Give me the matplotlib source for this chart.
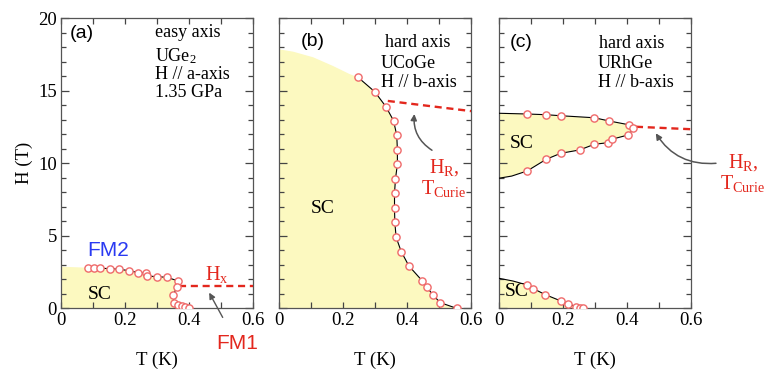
import numpy as np
import matplotlib
matplotlib.use('Agg')
from matplotlib import pyplot as plt
from matplotlib.ticker import MultipleLocator

plt.rcParams['font.family'] = 'Liberation Serif'
plt.rcParams['mathtext.fontset'] = 'custom'
plt.rcParams['mathtext.rm'] = 'Liberation Serif'
plt.rcParams['mathtext.it'] = 'Liberation Serif:italic'

# UGe2, H // a (1.35 GPa)
a_T = [0.083, 0.103, 0.122, 0.152, 0.182, 0.212, 0.241, 0.266, 0.270, 0.300,
       0.331, 0.365, 0.362, 0.350, 0.353, 0.365, 0.378, 0.388, 0.400]
a_H = [2.80, 2.80, 2.76, 2.74, 2.69, 2.60, 2.46, 2.41, 2.23, 2.18,
       2.14, 1.89, 1.45, 0.90, 0.39, 0.25, 0.16, 0.07, 0.00]
a_edge_H = 2.87
a_hx_T = [0.37, 0.60]
a_hx_H = [1.55, 1.55]

# UCoGe, H // b
b_T = [0.247, 0.299, 0.334, 0.358, 0.368, 0.370, 0.370, 0.364, 0.361, 0.361,
       0.362, 0.366, 0.382, 0.406, 0.447, 0.463, 0.480, 0.504, 0.555]
b_H = [15.93, 14.94, 13.91, 12.94, 11.93, 10.92, 9.93, 8.92, 7.93, 6.90,
       5.93, 4.90, 3.91, 2.92, 1.91, 1.45, 0.94, 0.39, 0.00]
b_top_T = [0.0, 0.044, 0.107, 0.169, 0.220]
b_top_H = [17.86, 17.70, 17.31, 16.71, 16.16]
b_hr_T = [0.34, 0.60]
b_hr_H = [14.30, 13.60]

# URhGe, H // b : re-entrant pocket
cu_T = [0.088, 0.148, 0.193, 0.298, 0.344, 0.405, 0.420]
cu_H = [13.40, 13.35, 13.28, 13.14, 12.92, 12.66, 12.46]
cl_T = [0.088, 0.148, 0.193, 0.252, 0.298, 0.340, 0.353, 0.403]
cl_H = [9.47, 10.28, 10.69, 10.92, 11.31, 11.42, 11.66, 11.95]
cu_edge_H = 13.45
cl_edge_T = [0.0, 0.04]
cl_edge_H = [8.97, 9.12]
c_tip = (0.428, 12.52)
# URhGe low-field SC
cb_T = [0.088, 0.107, 0.145, 0.193, 0.217, 0.241, 0.252, 0.262]
cb_H = [1.61, 1.36, 0.94, 0.51, 0.32, 0.11, 0.03, 0.00]
cb_edge_T = [0.0, 0.044]
cb_edge_H = [2.07, 1.88]
c_hr_T = [0.428, 0.60]
c_hr_H = [12.52, 12.35]

fill_c = '#fcf9c0'
mark_c = '#ef6a6a'
red = '#e3271d'
arrow_c = '#555555'
pt_kw = dict(ls='none', marker='o', ms=5.2, mfc='white', mec=mark_c, mew=1.0, zorder=5)
line_kw = dict(color='black', lw=0.8, zorder=4)
dash_kw = dict(color=red, lw=1.7, dashes=(3, 2), zorder=3)
fs_tick = 13.5
fs_txt = 13

fig = plt.figure(figsize=(7.7, 3.71), dpi=100)
lefts = [0.0792, 0.3623, 0.648]
axs = [fig.add_axes([l, 0.169, 0.2494, 0.7817]) for l in lefts]

for i, ax in enumerate(axs):
    ax.set_xlim(0, 0.6)
    ax.set_ylim(0, 20)
    ax.set_xticks([0, 0.2, 0.4, 0.6])
    ax.set_xticklabels(['0', '0.2', '0.4', '0.6'])
    ax.xaxis.set_minor_locator(MultipleLocator(0.1))
    ax.yaxis.set_major_locator(MultipleLocator(5))
    ax.yaxis.set_minor_locator(MultipleLocator(1))
    ax.tick_params(which='both', direction='in', top=True, right=True, labelsize=fs_tick,
                   width=0.9, color='#444444', pad=3)
    ax.tick_params(axis='y', which='major', length=6)
    ax.tick_params(axis='y', which='minor', length=3.5)
    ax.tick_params(axis='x', which='both', length=4)
    ax.set_xlabel('T (K)', fontsize=fs_tick, labelpad=16)
    for s in ax.spines.values():
        s.set_color('#555555')
        s.set_linewidth(0.9)
    if i > 0:
        ax.set_yticklabels([])


def sample_text(ax, xs, ys, lines):
    # small sample description block, one baseline per line
    for x, y, s in zip(xs, ys, lines):
        ax.text(x, y, s, fontsize=fs_txt, ha='left', va='baseline')


ax = axs[0]
ax.set_ylabel('H (T)', fontsize=fs_tick, labelpad=4)
ax.fill([0, 0] + a_T, [0, a_edge_H] + a_H, color=fill_c, lw=0, zorder=1)
ax.plot(a_T, a_H, **line_kw)
ax.plot(a_T, a_H, **pt_kw)
ax.plot(a_hx_T, a_hx_H, **dash_kw)
ax.text(0.065, 18.95, '(a)', family='Liberation Sans', fontsize=14, ha='center', va='center')
sample_text(ax, [0.293] * 4, [18.69, 17.05, 15.78, 14.6],
            ['easy axis', 'UGe$_2$', 'H // a-axis', '1.35 GPa'])
ax.text(0.148, 4.0, 'FM2', family='Liberation Sans', color='#2a3af2', fontsize=15, ha='center', va='center')
ax.text(0.122, 0.92, 'SC', fontsize=14, ha='center', va='center')
ax.text(0.487, 2.35, '$\\mathregular{H_x}$', color=red, fontsize=14.5, ha='center', va='center')
ax.annotate('FM1', xy=(0.463, 1.08), xytext=(0.549, -2.4), family='Liberation Sans',
            color=red, fontsize=15, ha='center', va='center', annotation_clip=False,
            arrowprops=dict(arrowstyle='-|>', color=arrow_c, lw=1.0, shrinkA=11, shrinkB=0,
                            mutation_scale=9))

ax = axs[1]
ax.fill(b_top_T + b_T + [0], b_top_H + b_H + [0], color=fill_c, lw=0, zorder=1)
ax.plot(b_T, b_H, **line_kw)
ax.plot(b_T, b_H, **pt_kw)
ax.plot(b_hr_T, b_hr_H, **dash_kw)
ax.text(0.107, 18.4, '(b)', family='Liberation Sans', fontsize=14, ha='center', va='center')
sample_text(ax, [0.33, 0.319, 0.319], [18.04, 16.55, 15.28], ['hard axis', 'UCoGe', 'H // b-axis'])
ax.text(0.138, 6.9, 'SC', fontsize=14, ha='center', va='center')
ax.text(0.515, 8.95, '$\\mathregular{H_R}$,\n$\\mathregular{T_{Curie}}$', color=red,
        fontsize=14.5, ha='center', va='center', linespacing=1.0)
ax.annotate('', xy=(0.423, 13.4), xytext=(0.478, 10.9),
            arrowprops=dict(arrowstyle='-|>', color=arrow_c, lw=1.1, shrinkA=0, shrinkB=0,
                            mutation_scale=9, connectionstyle='arc3,rad=-0.3'))

ax = axs[2]
up_T = [0] + cu_T + [c_tip[0]]
up_H = [cu_edge_H] + cu_H + [c_tip[1]]
lo_T = cl_edge_T + cl_T + [c_tip[0]]
lo_H = cl_edge_H + cl_H + [c_tip[1]]
ax.fill(up_T + lo_T[::-1], up_H + lo_H[::-1], color=fill_c, lw=0, zorder=1)
ax.plot(up_T, up_H, **line_kw)
ax.plot(lo_T, lo_H, **line_kw)
ax.plot(cu_T, cu_H, **pt_kw)
ax.plot(cl_T, cl_H, **pt_kw)
bt_T = cb_edge_T + cb_T
bt_H = cb_edge_H + cb_H
ax.fill([0] + bt_T, [0] + bt_H, color=fill_c, lw=0, zorder=1)
ax.plot(bt_T, bt_H, **line_kw)
ax.plot(cb_T, cb_H, **pt_kw)
ax.plot(c_hr_T, c_hr_H, **dash_kw)
ax.text(0.07, 18.3, '(c)', family='Liberation Sans', fontsize=14, ha='center', va='center')
sample_text(ax, [0.314, 0.309, 0.309], [17.93, 16.55, 15.24], ['hard axis', 'URhGe', 'H // b-axis'])
ax.text(0.07, 11.38, 'SC', fontsize=14, ha='center', va='center')
ax.text(0.055, 1.15, 'SC', fontsize=14, ha='center', va='center')
ax.text(0.762, 9.3, '$\\mathregular{H_R}$,\n$\\mathregular{T_{Curie}}$', color=red,
        fontsize=14.5, ha='center', va='center', linespacing=1.0, clip_on=False)
ax.annotate('', xy=(0.49, 12.07), xytext=(0.678, 10.0), annotation_clip=False,
            arrowprops=dict(arrowstyle='-|>', color=arrow_c, lw=1.1, shrinkA=0, shrinkB=0,
                            mutation_scale=9, connectionstyle='arc3,rad=-0.3'))

fig.savefig('out.png', dpi=100)
